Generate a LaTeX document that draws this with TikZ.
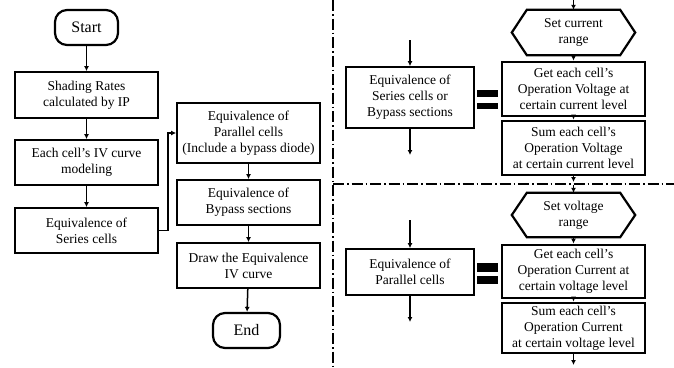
\documentclass[tikz,border=0pt]{standalone}
\usepackage{fontspec}
\setmainfont{Liberation Serif}
\usetikzlibrary{arrows.meta}
\begin{document}
\begin{tikzpicture}[x=1pt,y=-1pt,
  every node/.style={font=\fontsize{13.5}{16}\selectfont, align=center, inner sep=0pt},
  box/.style={draw, line width=1.8pt, minimum width=143pt},
  tbox/.style={draw, line width=2.8pt, minimum width=143pt},
  term/.style={draw, line width=2.2pt, rounded corners=12pt},
  hexa/.style={minimum width=123pt, minimum height=45pt},
  arr/.style={line width=1.5pt, -{Latex[length=5pt,width=5pt]}},
  plain/.style={line width=1.5pt},
  sep/.style={line width=1.4pt, dash pattern=on 11pt off 3pt on 1.5pt off 3pt},
  bar/.style={fill=black}]
\useasboundingbox (0,0) rectangle (674,367);

% left flow
\node[term, minimum width=63pt, minimum height=35pt] (start) at (86.5,27.5) {\fontsize{16}{18}\selectfont Start};
\node[box, minimum height=46pt] (shade) at (86.5,95) {Shading Rates\\calculated by IP};
\node[box, minimum height=45pt] (model) at (86.5,162.5) {Each cell's IV curve\\modeling};
\node[box, minimum height=45pt] (series) at (86.5,230.5) {Equivalence of\\Series cells};
\node[box, minimum height=60pt] (par) at (248.5,133) {Equivalence of\\Parallel cells\\(Include a bypass diode)};
\node[box, minimum height=45pt] (bypass) at (248.5,202.5) {Equivalence of\\Bypass sections};
\node[box, minimum height=45pt] (drawiv) at (248.5,265.5) {Draw the Equivalence\\IV curve};
\node[term, minimum width=67pt, minimum height=35pt] (end) at (246.5,330.5) {\fontsize{16}{18}\selectfont End};

\draw[arr] (start) -- (shade);
\draw[arr] (shade) -- (model);
\draw[arr] (model) -- (series);
\draw[arr] (series.east) -- ++(9,0) |- (par.west);
\draw[arr] (par) -- (bypass);
\draw[arr] (bypass) -- (drawiv);
\draw[arr] (drawiv) -- (end);

% separators
\coordinate (vt) at (333,0);
\coordinate (vb) at (333,367);
\coordinate (hl) at (333,184);
\coordinate (hr) at (674,184);
\draw[sep] (vt) -- (vb);
\draw[sep] (hl) -- (hr);

% upper right
\node[box, minimum width=128pt, minimum height=61pt] (eq1) at (410,97.5) {Equivalence of\\Series cells or\\Bypass sections};
\coordinate (eq1in) at (410,40);
\coordinate (eq1out) at (410,155);
\draw[arr] (eq1in) -- (eq1.north);
\draw[arr] (eq1.south) -- (eq1out);
\fill[bar] (477,90) rectangle (498,97);
\fill[bar] (477,103) rectangle (498,109);

\node[hexa] (hex1) at (573.5,32.5) {Set current\\range};
\draw[line width=2.2pt, line join=miter] (hex1.west) -- ([xshift=15pt]hex1.north west) -- ([xshift=-15pt]hex1.north east) -- (hex1.east) -- ([xshift=-15pt]hex1.south east) -- ([xshift=15pt]hex1.south west) -- cycle;
\node[tbox, minimum height=54pt] (get1) at (573.5,89) {Get each cell's\\Operation Voltage at\\certain current level};
\node[tbox, minimum height=54pt] (sum1) at (573.5,148) {Sum each cell's\\Operation Voltage\\at certain current level};
\coordinate (t1) at (573.5,0);
\coordinate (b1) at (573.5,182);
\draw[arr] (t1) -- (hex1.north);
\draw[arr] (hex1.south) -- (get1.north);
\draw[arr] (get1.south) -- (sum1.north);
\draw[arr] (sum1.south) -- (b1);

% lower right
\node[box, minimum width=128pt, minimum height=46pt] (eq2) at (410,272) {Equivalence of\\Parallel cells};
\coordinate (eq2in) at (410,220);
\coordinate (eq2out) at (410,322);
\draw[arr] (eq2in) -- (eq2.north);
\draw[arr] (eq2.south) -- (eq2out);
\fill[bar] (477,263) rectangle (498,272);
\fill[bar] (477,276) rectangle (498,284);

\node[hexa, minimum height=44pt] (hex2) at (573.5,215) {Set voltage\\range};
\draw[line width=2.2pt, line join=miter] (hex2.west) -- ([xshift=15pt]hex2.north west) -- ([xshift=-15pt]hex2.north east) -- (hex2.east) -- ([xshift=-15pt]hex2.south east) -- ([xshift=15pt]hex2.south west) -- cycle;
\node[tbox, minimum height=53pt] (get2) at (573.5,271.5) {Get each cell's\\Operation Current at\\certain voltage level};
\node[tbox, minimum height=50pt] (sum2) at (573.5,328) {Sum each cell's\\Operation Current\\at certain voltage level};
\coordinate (t2) at (573.5,185);
\coordinate (b2) at (573.5,365);
\draw[arr] (t2) -- (hex2.north);
\draw[arr] (hex2.south) -- (get2.north);
\draw[arr] (get2.south) -- (sum2.north);
\draw[arr] (sum2.south) -- (b2);
\end{tikzpicture}
\end{document}
